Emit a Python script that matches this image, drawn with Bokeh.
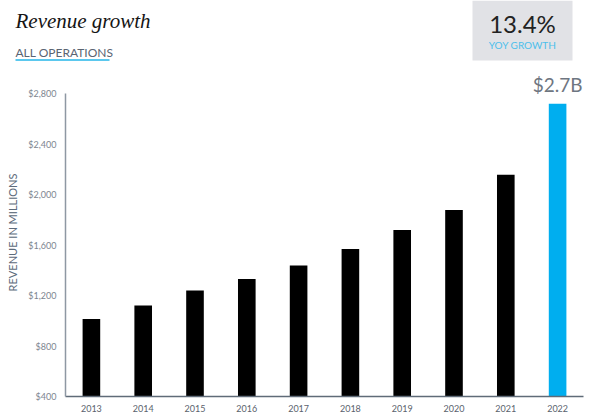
from bokeh.plotting import figure
from bokeh.layouts import column
from bokeh.models import (FactorRange, Range1d, FixedTicker, NumeralTickFormatter,
                          ColumnDataSource)
from bokeh.core.properties import value
from bokeh.embed import file_html
from bokeh.resources import INLINE

years = ["2013", "2014", "2015", "2016", "2017", "2018", "2019", "2020", "2021", "2022"]
revenue = [1015, 1121, 1240, 1332, 1438, 1570, 1720, 1879, 2158, 2721]
bar_colors = ["#000000"] * 9 + ["#00aeef"]
y_ticks = [400, 800, 1200, 1600, 2000, 2400, 2800]
title_text = "Revenue growth"
subtitle_text = "ALL OPERATIONS"
kpi_value = "13.4%"
kpi_label = "YOY GROWTH"
last_label = "$2.7B"
y_axis_title = "REVENUE IN MILLIONS"

SANS = "Lato"
W = 592
HEAD_H = 68

# ---------------- header strip ----------------
h = figure(width=W, height=HEAD_H, x_range=Range1d(0, W), y_range=Range1d(HEAD_H, 0),
           output_backend="svg", toolbar_location=None, min_border=0,
           x_axis_type=None, y_axis_type=None)
h.frame_align = False
h.outline_line_color = None
h.background_fill_color = "white"
h.border_fill_color = "white"

h.text(x=[15], y=[20], text=[title_text], text_baseline="middle",
       text_font=value("Liberation Serif"), text_font_style="italic",
       text_font_size="21px", text_color="#151515")
h.text(x=[15], y=[52], text=[subtitle_text], text_baseline="middle",
       text_font=value(SANS), text_font_size="12px", text_color="#5a6472")
h.quad(left=[15], right=[109], top=[58.5], bottom=[60.5], fill_color="#5bc8ee", line_color=None)
h.quad(left=[472], right=[572], top=[0], bottom=[60], fill_color="#e1e2e6", line_color=None)
h.text(x=[522], y=[23], text=[kpi_value], text_align="center", text_baseline="middle",
       text_font=value(SANS), text_font_size="24px", text_color="#222222")
h.text(x=[522], y=[44], text=[kpi_label], text_align="center", text_baseline="middle",
       text_font=value(SANS), text_font_size="10px", text_color="#4cbfeb")

# ---------------- chart ----------------
source = ColumnDataSource(dict(x=years, top=revenue, color=bar_colors))

p = figure(width=W, height=416 - HEAD_H,
           x_range=FactorRange(*years, range_padding=0),
           y_range=Range1d(400, 3000),
           output_backend="svg", toolbar_location=None,
           min_border_left=65, min_border_right=9,
           min_border_top=0, min_border_bottom=20)
p.frame_align = False

p.vbar(x="x", top="top", bottom=400, width=0.34, color="color", line_color=None, source=source)

p.text(x=[years[-1]], y=[revenue[-1]], text=[last_label], y_offset=-19,
       text_align="center", text_baseline="middle", text_font_size="19px",
       text_color="#6e7681", text_font=value(SANS))

p.xgrid.grid_line_color = None
p.ygrid.grid_line_color = None
p.outline_line_color = None
p.background_fill_color = "white"
p.border_fill_color = "white"

yax = p.yaxis[0]
yax.ticker = FixedTicker(ticks=y_ticks)
yax.formatter = NumeralTickFormatter(format="$0,0")
yax.bounds = (400, 2800)
yax.axis_line_color = "#8e98a3"
yax.axis_line_width = 1.5
yax.major_tick_line_color = None
yax.minor_tick_line_color = None
yax.major_tick_in = 0
yax.major_tick_out = 0
yax.major_label_standoff = 9
yax.major_label_text_font = SANS
yax.major_label_text_font_size = "9px"
yax.major_label_text_color = "#7d8590"
yax.axis_label = y_axis_title
yax.axis_label_text_font = SANS
yax.axis_label_text_font_style = "normal"
yax.axis_label_text_font_size = "11px"
yax.axis_label_text_color = "#5d6b7b"
yax.axis_label_standoff = 6

xax = p.xaxis[0]
xax.axis_line_color = "#5f6b78"
xax.axis_line_width = 1.5
xax.major_tick_line_color = None
xax.minor_tick_line_color = None
xax.major_tick_in = 0
xax.major_tick_out = 0
xax.major_label_standoff = 8
xax.major_label_text_font = SANS
xax.major_label_text_font_size = "9px"
xax.major_label_text_color = "#5a626d"

layout = column(h, p, spacing=0)
open("out.html", "w").write(file_html(layout, INLINE))
